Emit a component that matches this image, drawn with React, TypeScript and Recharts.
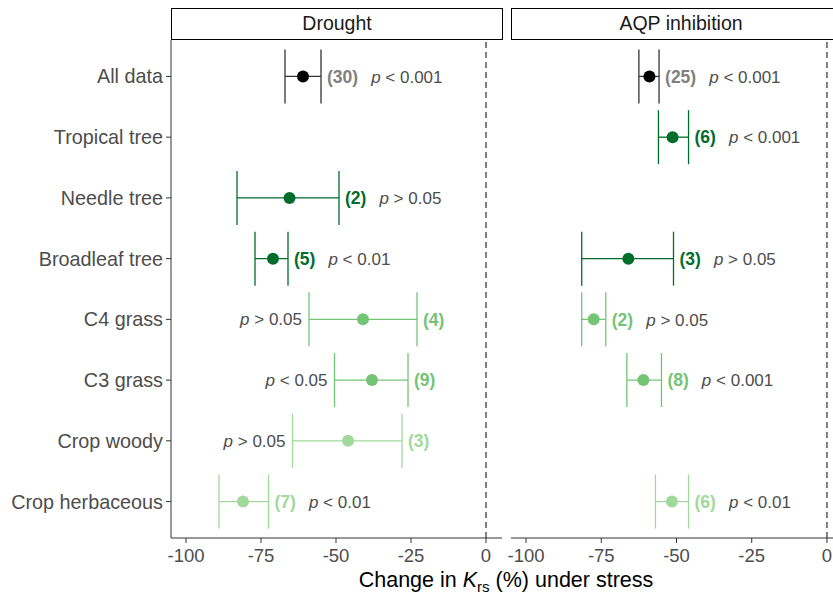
import React from 'react';
import { ScatterChart, Scatter, XAxis, YAxis, ErrorBar, ReferenceLine } from 'recharts';

// rows, top to bottom
const categories = [
  'All data',
  'Tropical tree',
  'Needle tree',
  'Broadleaf tree',
  'C4 grass',
  'C3 grass',
  'Crop woody',
  'Crop herbaceous',
];
const groups = ['all', 'tree', 'tree', 'tree', 'grass', 'grass', 'crop', 'crop'];

// Drought panel
const droughtMean = [-61, null, -65.5, -71, -41, -38, -46, -81];
const droughtLow = [-67, null, -83, -77, -59, -50.5, -64.5, -89];
const droughtHigh = [-55, null, -49, -66, -23, -26, -28, -72.5];
const droughtN = [30, null, 2, 5, 4, 9, 3, 7];
const droughtP = ['< 0.001', null, '> 0.05', '< 0.01', '> 0.05', '< 0.05', '> 0.05', '< 0.01'];
const droughtPSide = ['right', null, 'right', 'right', 'left', 'left', 'left', 'right'];

// AQP inhibition panel
const aqpMean = [-59, -51.3, null, -66, -77.5, -61, null, -51.5];
const aqpLow = [-62.5, -56, null, -81.5, -81.5, -66.5, null, -57];
const aqpHigh = [-55.8, -46, null, -51, -73.5, -55, null, -46];
const aqpN = [25, 6, null, 3, 2, 8, null, 6];
const aqpP = ['< 0.001', '< 0.001', null, '> 0.05', '> 0.05', '< 0.001', null, '< 0.01'];
const aqpPSide = ['right', 'right', null, 'right', 'right', 'right', null, 'right'];

const xTicks = [-100, -75, -50, -25, 0];

const dotColors: Record<string, string> = { all: '#000000', tree: '#006d2c', grass: '#74c476', crop: '#a1d99b' };
const barColors: Record<string, string> = { all: '#333333', tree: '#006d2c', grass: '#74c476', crop: '#a1d99b' };
const nColors: Record<string, string> = { all: '#808080', tree: '#006d2c', grass: '#74c476', crop: '#a1d99b' };
const groupKeys = ['all', 'tree', 'grass', 'crop'];

const FONT = '"Liberation Sans", Arial, sans-serif';

function buildRows(mean: any[], low: any[], high: any[], n: any[], p: any[], side: any[]) {
  return categories
    .map((c, i) => ({
      cat: c,
      y: i + 1,
      group: groups[i],
      x: mean[i],
      lo: low[i],
      hi: high[i],
      err: mean[i] == null ? null : [mean[i] - low[i], high[i] - mean[i]],
      n: n[i],
      p: p[i],
      side: side[i],
    }))
    .filter((r) => r.x != null);
}

const droughtRows = buildRows(droughtMean, droughtLow, droughtHigh, droughtN, droughtP, droughtPSide);
const aqpRows = buildRows(aqpMean, aqpLow, aqpHigh, aqpN, aqpP, aqpPSide);

const dotShape = (color: string) => (props: any) => (
  <circle cx={props.cx} cy={props.cy} r={6} fill={color} />
);

// "(n)" right of the upper CI, plus the p value when it sits on the right
const NLabel = (props: any) => {
  const r = props.payload;
  return (
    <text x={props.cx + 6} y={props.cy} dy="0.36em" fontSize={17.5}>
      <tspan fontWeight="bold" fill={nColors[r.group]}>({r.n})</tspan>
      {r.side === 'right' && (
        <>
          <tspan dx={13} fontStyle="italic" fill="#4d4d4d" fontSize={17}>p</tspan>
          <tspan fill="#4d4d4d" fontSize={17}> {r.p}</tspan>
        </>
      )}
    </text>
  );
};

// p value left of the lower CI
const PLeftLabel = (props: any) => {
  const r = props.payload;
  return (
    <text x={props.cx - 7} y={props.cy} dy="0.36em" fontSize={17} textAnchor="end" fill="#4d4d4d">
      <tspan fontStyle="italic">p</tspan>
      <tspan> {r.p}</tspan>
    </text>
  );
};

function Panel({ rows, showY, width, leftPad }: { rows: any[]; showY: boolean; width: number; leftPad: number }) {
  const nData = rows.map((r) => ({ ...r, x: r.hi }));
  const pLeft = rows.filter((r) => r.side === 'left').map((r) => ({ ...r, x: r.lo }));
  return (
    <ScatterChart width={width} height={596} margin={{ top: 40, right: 0, bottom: 0, left: leftPad }}>
      <XAxis
        type="number"
        dataKey="x"
        domain={[-105, 5.33]}
        allowDataOverflow
        ticks={xTicks}
        interval={0}
        height={58}
        tickSize={5}
        tickMargin={6}
        stroke="#333333"
        tick={{ fill: '#4d4d4d', fontSize: 18.5 }}
      />
      <YAxis
        type="number"
        dataKey="y"
        domain={[0.4, 8.6]}
        allowDataOverflow
        reversed
        ticks={categories.map((_, i) => i + 1)}
        interval={0}
        tickFormatter={(v: number) => categories[v - 1]}
        width={showY ? 171 : 0}
        hide={!showY}
        tickSize={5}
        tickMargin={3}
        stroke="#333333"
        tick={{ fill: '#4d4d4d', fontSize: 19.8 }}
      />
      <ReferenceLine x={0} stroke="#404040" strokeWidth={1.3} strokeDasharray="6 4" />
      {groupKeys.map((g) => (
        <Scatter
          key={g}
          data={rows.filter((r) => r.group === g)}
          shape={dotShape(dotColors[g])}
          isAnimationActive={false}
        >
          <ErrorBar dataKey="err" direction="x" width={27} stroke={barColors[g]} strokeWidth={1.3} />
        </Scatter>
      ))}
      <Scatter data={nData} shape={NLabel} isAnimationActive={false} />
      <Scatter data={pLeft} shape={PLeftLabel} isAnimationActive={false} />
    </ScatterChart>
  );
}

const stripStyle: React.CSSProperties = {
  position: 'absolute',
  top: 8,
  height: 32,
  boxSizing: 'border-box',
  border: '1.5px solid #000',
  background: '#fff',
  fontSize: 19.5,
  lineHeight: '29px',
  textAlign: 'center',
  color: '#1a1a1a',
};

export default function App() {
  return (
    <div
      style={{
        position: 'absolute',
        left: 0,
        top: 0,
        width: 833,
        height: 596,
        overflow: 'hidden',
        background: '#fff',
        fontFamily: FONT,
      }}
    >
      <div style={{ position: 'absolute', left: 0, top: 0 }}>
        <Panel rows={droughtRows} showY width={502} leftPad={0} />
      </div>
      <div style={{ position: 'absolute', left: 491, top: 0 }}>
        <Panel rows={aqpRows} showY={false} width={352} leftPad={20} />
      </div>
      <div style={{ ...stripStyle, left: 171, width: 332 }}>Drought</div>
      <div style={{ ...stripStyle, left: 511, width: 340 }}>AQP inhibition</div>
      <div
        style={{
          position: 'absolute',
          left: 306,
          width: 400,
          top: 570,
          fontSize: 21.5,
          lineHeight: '21px',
          textAlign: 'center',
          color: '#000',
          whiteSpace: 'nowrap',
        }}
      >
        Change in <span style={{ fontStyle: 'italic' }}>K</span>
        <span style={{ fontSize: '0.7em', verticalAlign: '-0.3em', lineHeight: 0 }}>rs</span> (%) under stress
      </div>
    </div>
  );
}
